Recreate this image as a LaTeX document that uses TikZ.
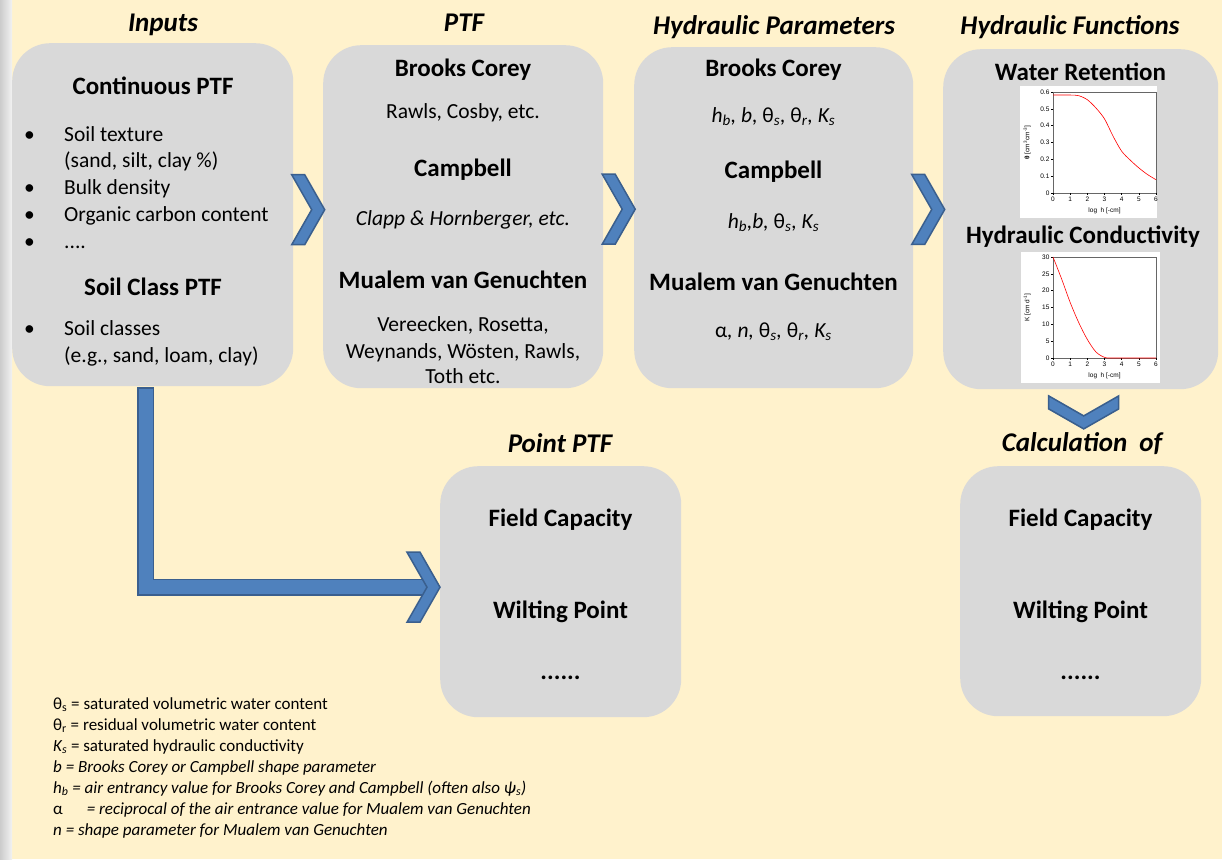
\documentclass[tikz,border=0pt]{standalone}
\usepackage{fontspec}
\setmainfont{Carlito}
\newfontfamily\plotfont{Liberation Sans}
\usetikzlibrary{calc}

\definecolor{paper}{HTML}{FFF2CC}
\definecolor{panelgrey}{HTML}{D9D9D9}
\definecolor{chevblue}{HTML}{4F81BD}
\definecolor{chevline}{HTML}{3A5F8E}

\begin{document}
\begin{tikzpicture}[
	x=1pt, y=-1pt,
	every node/.style={inner sep=0pt},
	panel/.style={fill=panelgrey, rounded corners=38pt, anchor=north west},
	coltitle/.style={anchor=base, font=\fontsize{27}{32}\selectfont\bfseries\itshape},
	head/.style={anchor=base, font=\fontsize{25}{30}\selectfont\bfseries},
	body/.style={anchor=base, font=\fontsize{21.5}{26}\selectfont},
	listitem/.style={anchor=base west, font=\fontsize{21.5}{26}\selectfont},
	legend/.style={anchor=base west, font=\fontsize{17}{20}\selectfont},
	ticklabel/.style={font=\plotfont\fontsize{6.5}{7}\selectfont},
	chev/.style={fill=chevblue, draw=chevline, line width=1.5pt, line join=miter},
	lbar/.style={draw=chevline, line width=1.5pt, double=chevblue, double distance=14pt, line cap=rect},
	chevron/.pic={\draw[chev] (-16.5,-35) -- (-3.5,-35) -- (16.5,0) -- (-3.5,35) -- (-16.5,35) -- (3.5,0) -- cycle;}
	]
	
	\useasboundingbox (0,0) rectangle (1222,859);
	\fill[paper] (0,0) rectangle (1222,859);
	\shade[left color=gray!40, right color=gray!10] (0,0) rectangle (12,859);
	
	% panels
	\node[panel, minimum width=281pt, minimum height=343pt] (inputs) at (12,43) {};
	\node[panel, minimum width=280pt, minimum height=343pt] (ptfbox) at (323,45) {};
	\node[panel, minimum width=279pt, minimum height=341pt] (parbox) at (634,47) {};
	\node[panel, minimum width=275pt, minimum height=340pt] (funbox) at (943,49) {};
	\node[panel, minimum width=241pt, minimum height=251pt] (pointbox) at (440,466) {};
	\node[panel, minimum width=241pt, minimum height=250pt] (calcbox) at (960,466) {};
	
	% column titles
	\node[coltitle] (tinputs) at (163,32) {Inputs};
	\node[coltitle] (tptf) at (464,32) {PTF};
	\node[coltitle] (tpar) at (774,35) {Hydraulic Parameters};
	\node[coltitle] (tfun) at (1070,35) {Hydraulic Functions};
	\node[coltitle] (tpoint) at (560,452) {Point PTF};
	\node[coltitle] (tcalc) at (1082,451) {Calculation\ \ of};
	
	% inputs
	\node[head] (contptf) at (153,94) {Continuous PTF};
	\foreach \y [count=\k] in {141,194,221,248,335}
		\node[listitem] (dot\k) at (24,\y) {\textbullet};
	\node[listitem] (texture) at (64,141) {Soil texture};
	\node[listitem] (fractions) at (64,167) {(sand, silt, clay \%)};
	\node[listitem] (bulk) at (64,194) {Bulk density};
	\node[listitem] (carbon) at (64,221) {Organic carbon content};
	\node[listitem] (more) at (64,248) {....};
	\node[head] (classptf) at (153,295) {Soil Class PTF};
	\node[listitem] (classes) at (64,335) {Soil classes};
	\node[listitem] (examples) at (64,362) {(e.g., sand, loam, clay)};
	
	% PTF
	\node[head] (bcptf) at (463,76) {Brooks Corey};
	\node[body] (bcref) at (463,118) {Rawls, Cosby, etc.};
	\node[head] (cbptf) at (463,176) {Campbell};
	\node[body] (cbref) at (463,225) {\itshape Clapp \& Hornberger, etc.};
	\node[head] (vgptf) at (463,288) {Mualem van Genuchten};
	\node[body] (vgrefa) at (463,331) {Vereecken, Rosetta,};
	\node[body] (vgrefb) at (463,358) {Weynands, Wösten, Rawls,};
	\node[body] (vgrefc) at (463,383) {Toth etc.};
	
	% hydraulic parameters
	\node[head] (bcpar) at (773.5,77) {Brooks Corey};
	\node[body] (bcset) at (773.5,122) {\itshape h\textsubscript{b}, b, \textup{θ}\textsubscript{s}, \textup{θ}\textsubscript{r}, K\textsubscript{s}};
	\node[head] (cbpar) at (773.5,178) {Campbell};
	\node[body] (cbset) at (773.5,228) {\itshape h\textsubscript{b},b, \textup{θ}\textsubscript{s}, K\textsubscript{s}};
	\node[head] (vgpar) at (773.5,290) {Mualem van Genuchten};
	\node[body] (vgset) at (773.5,337) {\itshape \textup{α}, n, \textup{θ}\textsubscript{s}, \textup{θ}\textsubscript{r}, K\textsubscript{s}};
	
	% hydraulic functions
	\node[head] (retention) at (1080.5,81) {Water Retention};
	\node[head] (conductivity) at (1083,243) {Hydraulic Conductivity};
	
	% water retention chart
	\fill[white] (1020,86) rectangle (1157,218);
	\begin{scope}[shift={(1053,193)}, x=17.17pt, y=168.33pt]
		\draw[black!60, line width=0.5pt] (0,0) rectangle (6,0.6);
		\foreach \i in {0,...,6} {
			\draw[line width=0.4pt] (\i,0) -- ++(0,-0.012);
			\node[ticklabel, anchor=north] (wrx\i) at (\i,-0.025) {\i};
			\draw[line width=0.4pt] (0,\i/10) -- ++(-0.12,0);
			\node[ticklabel, anchor=east] (wry\i) at (-0.2,\i/10) {\ifnum\i=0 0\else 0.\i\fi};
		}
		\node[ticklabel, rotate=90] (wrylab) at (-1.5,0.3) {{\bfseries θ} [cm\textsuperscript{3}cm\textsuperscript{-3}]};
		\node[ticklabel] (wrxlab) at (3,-0.105) {log\ \ h [-cm]};
		\draw[red, line width=0.6pt] plot[smooth] coordinates {(0,0.582) (1,0.582) (1.5,0.578) (2,0.554) (2.5,0.505) (3,0.44) (3.5,0.337) (4,0.248) (4.5,0.195) (5,0.149) (5.5,0.11) (6,0.079)};
	\end{scope}
	
	% conductivity chart
	\fill[white] (1021,252) rectangle (1160,383);
	\begin{scope}[shift={(1053,358)}, x=17.17pt, y=3.367pt]
		\draw[black!60, line width=0.5pt] (0,0) rectangle (6,30);
		\foreach \i in {0,...,6} {
			\draw[line width=0.4pt] (\i,0) -- ++(0,-0.6);
			\node[ticklabel, anchor=north] (kcx\i) at (\i,-1.2) {\i};
			\draw[line width=0.4pt] (0,5*\i) -- ++(-0.12,0);
			\pgfmathtruncatemacro{\kv}{5*\i}
			\node[ticklabel, anchor=east] (kcy\i) at (-0.2,5*\i) {\kv};
		}
		\node[ticklabel, rotate=90] (kcylab) at (-1.5,15) {K [cm d\textsuperscript{-1}]};
		\node[ticklabel] (kcxlab) at (3,-5.3) {log\ \ h [-cm]};
		\draw[red, line width=0.6pt] plot[smooth] coordinates {(0,30) (0.5,23.5) (1,16.5) (1.5,10.5) (2,5.5) (2.5,1.8) (3,0.2) (3.5,0) (6,0)};
	\end{scope}
	
	% point PTF and calculation
	\node[head] (fcpoint) at (560.5,526) {Field Capacity};
	\node[head] (wppoint) at (560.5,618) {Wilting Point};
	\node[head] (etcpoint) at (560.5,679) {......};
	\node[head] (fccalc) at (1080.5,526) {Field Capacity};
	\node[head] (wpcalc) at (1080.5,618) {Wilting Point};
	\node[head] (etccalc) at (1080.5,679) {......};
	
	% arrows
	\pic at ($(inputs.east)!0.5!(ptfbox.west)+(0,-6)$) {chevron};
	\pic at ($(ptfbox.east)!0.5!(parbox.west)+(0,-8)$) {chevron};
	\pic at ($(parbox.east)!0.5!(funbox.west)+(0,-9)$) {chevron};
	\pic[rotate=-90] at ($(funbox.south)+(3,23)$) {chevron};
	\draw[lbar] ($(inputs.south)+(-7,9.5)$) |- ($(pointbox.west)+(-17,-4.5)$);
	\pic at ($(pointbox.west)+(-16.5,-4.5)$) {chevron};
	
	% legend
	\node[legend] (leg1) at (53,709) {\textup{θ}\textsubscript{s} = saturated volumetric water content};
	\node[legend] (leg2) at (53,730) {\textup{θ}\textsubscript{r} = residual volumetric water content};
	\node[legend] (leg3) at (53,751) {\textit{K\textsubscript{s}} = saturated hydraulic conductivity};
	\node[legend] (leg4) at (53,772) {\itshape b = Brooks Corey or Campbell shape parameter};
	\node[legend] (leg5) at (53,793) {\itshape h\textsubscript{b} = air entrancy value for Brooks Corey and Campbell (often also ψ\textsubscript{s})};
	\node[legend] (leg6) at (53,814) {\textup{α}\hspace{24pt}\itshape = reciprocal of the air entrance value for Mualem van Genuchten};
	\node[legend] (leg7) at (53,835) {\itshape n = shape parameter for Mualem van Genuchten};
	
\end{tikzpicture}
\end{document}
